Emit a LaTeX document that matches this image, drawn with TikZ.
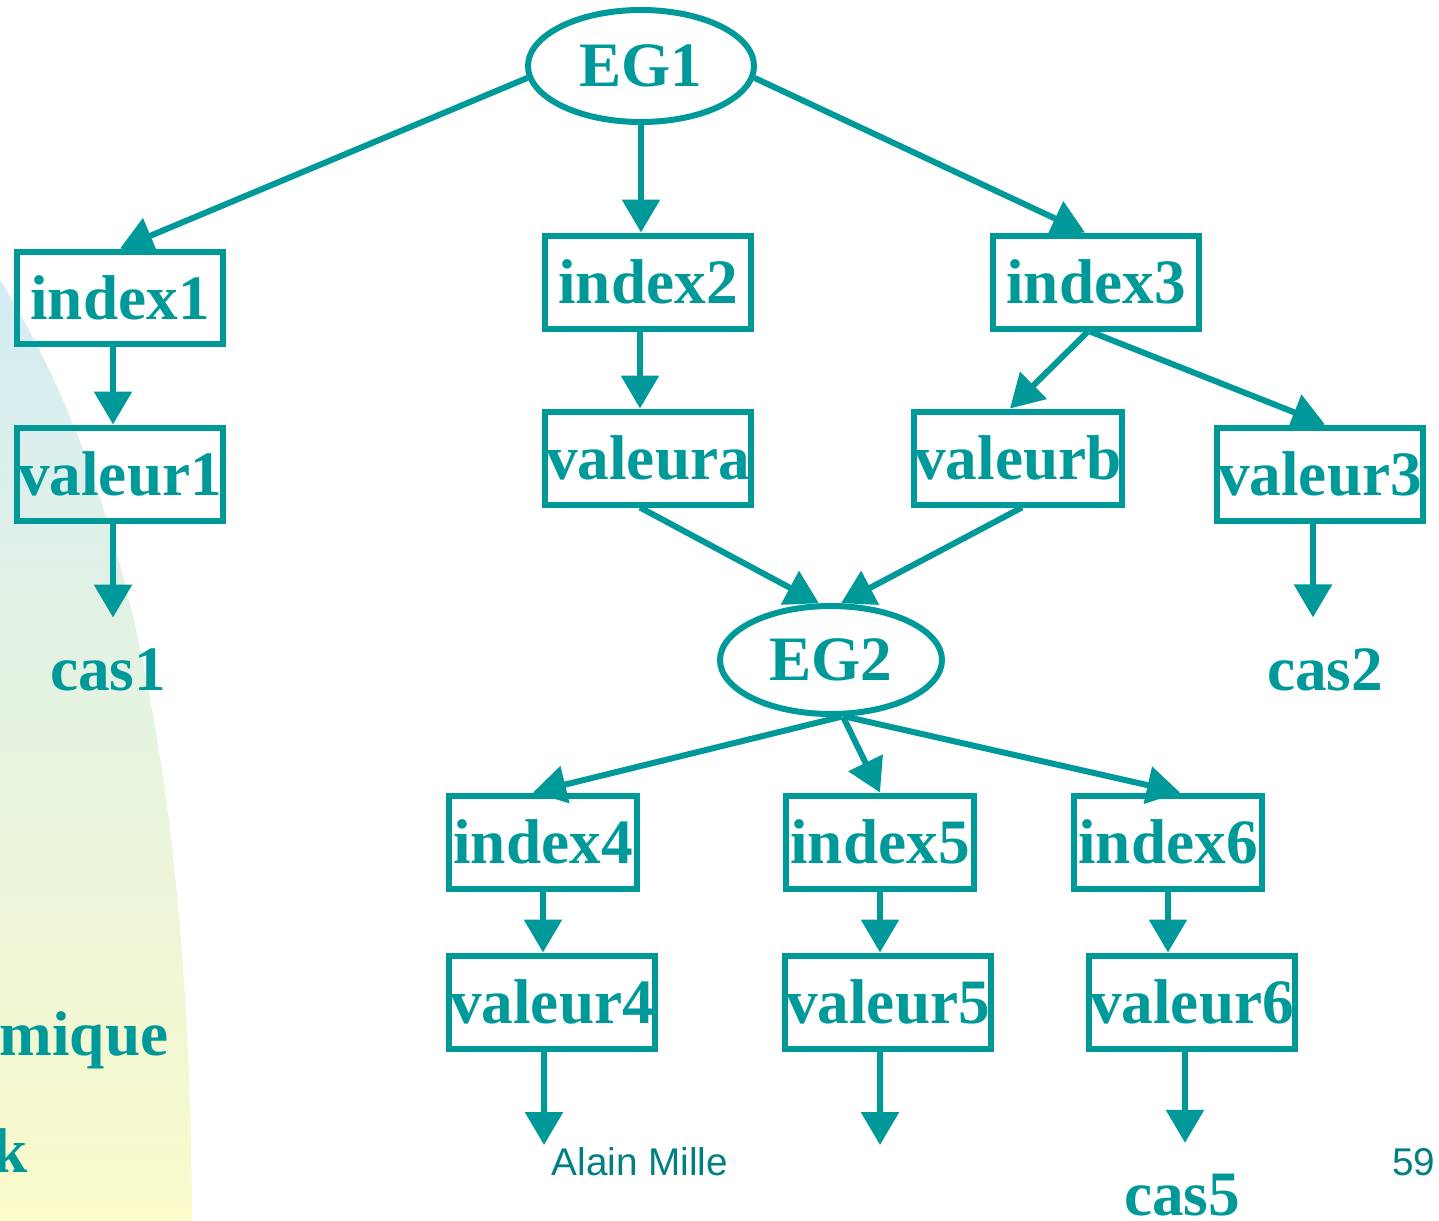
\documentclass[tikz,border=0pt]{standalone}
\usepackage{fontspec}
\setmainfont{Liberation Serif}
\newfontfamily\footfont{Liberation Sans}
\usetikzlibrary{arrows.meta, shapes.geometric, positioning}
\definecolor{slideteal}{RGB}{0, 153, 153}
\definecolor{footteal}{RGB}{0, 128, 128}
\definecolor{fadeblue}{RGB}{212, 237, 244}
\definecolor{fadeyellow}{RGB}{250, 250, 202}

\begin{document}
\begin{tikzpicture}[
    every node/.style={text=slideteal, font=\fontsize{18}{20}\selectfont\bfseries},
    box/.style={draw=slideteal, line width=0.06cm, minimum width=2.06cm, minimum height=0.93cm, inner sep=0pt},
    smallbox/.style={box, minimum width=1.88cm},
    egnode/.style={ellipse, draw=slideteal, line width=0.06cm, inner sep=0pt},
    leaf/.style={inner sep=0pt, anchor=base},
    link/.style={draw=slideteal, line width=0.06cm, -{Triangle[length=0.33cm, width=0.37cm]}}
  ]
    \useasboundingbox (0,0) rectangle (14.39,-12.21);

    % faded backdrop on the left
    \shade[top color=fadeblue, bottom color=fadeyellow]
      (0,-2.8) .. controls (1.0,-4.4) and (1.9,-7) .. (1.92,-12.21) -- (0,-12.21) -- cycle;
    \node[leaf, anchor=base east] (mique) at (1.69,-10.55) {amique};
    \node[leaf, anchor=base east] (kword) at (0.28,-11.72) {k};

    % first level
    \node[egnode, minimum width=2.26cm, minimum height=1.12cm] (eg1) at (6.41,-0.66) {EG1};
    \node[box] (index1) at (1.20,-2.98) {index1};
    \node[box] (index2) at (6.48,-2.82) {index2};
    \node[box] (index3) at (10.96,-2.82) {index3};
    \node[box] (valeur1) at (1.20,-4.74) {valeur1};
    \node[box] (valeura) at (6.48,-4.58) {valeura};
    \node[box] (valeurb) at (10.18,-4.58) {valeurb};
    \node[box] (valeur3) at (13.20,-4.74) {valeur3};
    \node[leaf] (cas1) at (1.08,-6.90) {cas1};
    \node[leaf] (cas2) at (13.25,-6.90) {cas2};

    % second level
    \node[egnode, minimum width=2.22cm, minimum height=1.08cm] (eg2) at (8.31,-6.60) {EG2};
    \node[smallbox] (index4) at (5.43,-8.42) {index4};
    \node[smallbox] (index5) at (8.80,-8.42) {index5};
    \node[smallbox] (index6) at (11.68,-8.42) {index6};
    \node[box] (valeur4) at (5.52,-10.02) {valeur4};
    \node[box] (valeur5) at (8.88,-10.02) {valeur5};
    \node[box] (valeur6) at (11.92,-10.02) {valeur6};
    \node[leaf] (cas5) at (11.82,-12.15) {cas5};
    \coordinate (end4) at (5.44,-11.45);
    \coordinate (end5) at (8.80,-11.45);

    % footer
    \node[leaf, text=footteal, font=\footfont\fontsize{11}{13}\selectfont] (author) at (6.40,-11.75) {Alain Mille};
    \node[leaf, anchor=base east, text=footteal, font=\footfont\fontsize{11}{13}\selectfont] (page) at (14.36,-11.75) {59};

    \draw[link] (eg1.186) -- (index1.north);
    \draw[link] (eg1.south) -- (eg1.south |- index2.north);
    \draw[link] (eg1.-6) -- ([xshift=-0.11cm]index3.north);
    \draw[link] ([xshift=-0.07cm]index1.south) -- ([xshift=-0.07cm]valeur1.north);
    \draw[link] ([xshift=-0.08cm]index2.south) -- ([xshift=-0.08cm]valeura.north);
    \draw[link] ([xshift=-0.08cm]index3.south) -- ([xshift=-0.08cm]valeurb.north);
    \draw[link] ([xshift=-0.06cm]index3.south) -- ([xshift=0.05cm]valeur3.north);
    \draw[link, shorten >=0.3cm] ([xshift=-0.07cm]valeur1.south) -- ([xshift=-0.07cm]valeur1.south |- cas1.north);
    \draw[link, shorten >=0.3cm] ([xshift=-0.07cm]valeur3.south) -- ([xshift=-0.07cm]valeur3.south |- cas2.north);
    \draw[link] ([xshift=-0.08cm]valeura.south) -- (eg2.102);
    \draw[link] ([xshift=0.04cm]valeurb.south) -- (eg2.80);

    \draw[link] (eg2.-80) -- ([xshift=-0.1cm]index4.north);
    \draw[link] (eg2.-78) -- (index5.north);
    \draw[link] (eg2.-76) -- ([xshift=0.12cm]index6.north);
    \foreach \i in {4,5,6} {
      \draw[link] (index\i.south) -- (index\i.south |- valeur\i.north);
    }
    \draw[link] ([xshift=-0.08cm]valeur4.south) -- (end4);
    \draw[link] ([xshift=-0.08cm]valeur5.south) -- (end5);
    \draw[link, shorten >=0.3cm] ([xshift=-0.07cm]valeur6.south) -- ([xshift=-0.07cm]valeur6.south |- cas5.north);
  \end{tikzpicture}
\end{document}
